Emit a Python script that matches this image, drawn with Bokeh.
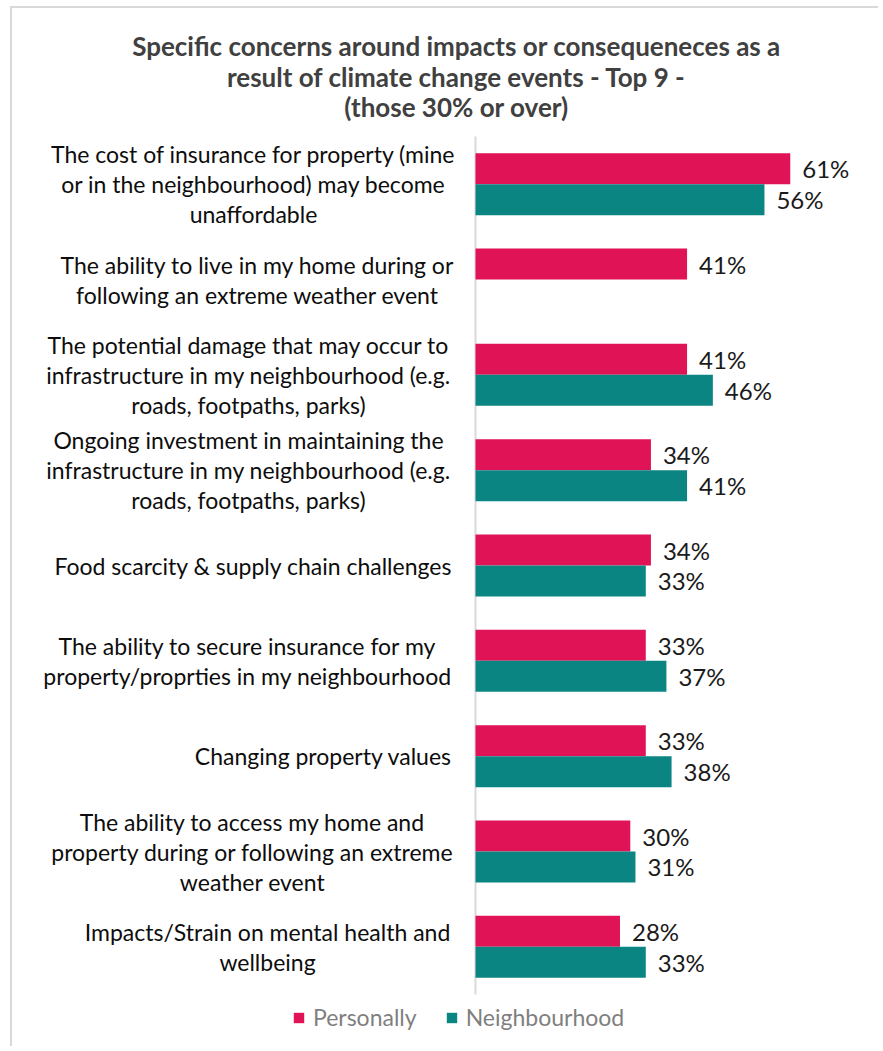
from bokeh.plotting import figure
from bokeh.models import (ColumnDataSource, Range1d, LabelSet, Label,
                          Legend, LegendItem)
from bokeh.transform import dodge
from bokeh.core.properties import value
from bokeh.embed import file_html
from bokeh.resources import INLINE

# ---------------- data ----------------
title_lines = [
    "Specific concerns around impacts or consequeneces as a",
    "result of climate change events - Top 9 -",
    "(those 30% or over)",
]
categories = [
    "The cost of insurance for property (mine\nor in the neighbourhood) may become\nunaffordable",
    "The ability to live in my home during or\nfollowing an extreme weather event",
    "The potential damage that may occur to\ninfrastructure in my neighbourhood (e.g.\nroads, footpaths, parks)",
    "Ongoing investment in maintaining the\ninfrastructure in my neighbourhood (e.g.\nroads, footpaths, parks)",
    "Food scarcity & supply chain challenges",
    "The ability to secure insurance for my\nproperty/proprties in my neighbourhood",
    "Changing property values",
    "The ability to access my home and\nproperty during or following an extreme\nweather event",
    "Impacts/Strain on mental health and\nwellbeing",
]
personally = [61, 41, 41, 34, 34, 33, 33, 30, 28]
neighbourhood = [56, None, 46, 41, 33, 37, 38, 31, 33]
series_names = ["Personally", "Neighbourhood"]

# ---------------- styles / layout ----------------
PINK = "#E01357"
TEAL = "#0B8582"
FONT = "Lato"
W, H = 868, 1040
AXIS_X = 463                 # canvas px of the value axis (0 %)
PLOT_TOP, PLOT_BOTTOM = 128, 986   # canvas px (from top) of the category band area
PX_PER_PCT = 5.16
BAR_H = 0.325
LINE_PX = 30                 # line spacing of the wrapped category labels
# horizontal centre of each wrapped label block, in px left of the axis
label_center_px = [-222, -218, -227, -227, -222, -228, -152, -223, -208]

n = len(categories)
px_per_cat = (PLOT_BOTTOM - PLOT_TOP) / n
ypos = [n - i - 0.5 for i in range(n)]          # first category at the top

def nan_if_none(v):
    return float("nan") if v is None else v

src_p = ColumnDataSource(dict(y=ypos, val=personally, txt=[f"{v}%" for v in personally]))
src_n = ColumnDataSource(dict(y=ypos, val=[nan_if_none(v) for v in neighbourhood]))
n_idx = [i for i, v in enumerate(neighbourhood) if v is not None]
lab_n = ColumnDataSource(dict(y=[ypos[i] for i in n_idx],
                              val=[neighbourhood[i] for i in n_idx],
                              txt=[f"{neighbourhood[i]}%" for i in n_idx]))

# one row per wrapped line so that every line is centred in its block
cx, cy, cyo, ctxt = [], [], [], []
for i, label in enumerate(categories):
    lines = label.split("\n")
    k = len(lines)
    for j, line in enumerate(lines):
        cx.append(label_center_px[i] / PX_PER_PCT)
        cy.append(ypos[i])
        cyo.append(((k - 1) / 2 - j) * LINE_PX)
        ctxt.append(line)
cat_src = ColumnDataSource(dict(x=cx, y=cy, yo=cyo, txt=ctxt))

x_range = Range1d(-AXIS_X / PX_PER_PCT, (W - AXIS_X) / PX_PER_PCT)
y_range = Range1d(-(H - PLOT_BOTTOM) / px_per_cat, n + PLOT_TOP / px_per_cat)

p = figure(width=W, height=H, output_backend="svg", toolbar_location=None,
           x_range=x_range, y_range=y_range,
           min_border=0, min_border_left=0, min_border_right=0,
           min_border_top=0, min_border_bottom=0,
           styles={"margin-left": "10px", "margin-top": "6px",
                   "border-left": "2px solid #d9d9d9",
                   "border-top": "2px solid #d9d9d9"})
p.outline_line_color = None
p.xgrid.visible = False
p.ygrid.visible = False
p.xaxis.visible = False
p.yaxis.visible = False

# value axis line at 0 %
p.segment(x0=[0], y0=[0], x1=[0], y1=[n], line_color="#d9d9d9", line_width=2)

r_p = p.hbar(y=dodge("y", BAR_H / 2), right="val", left=0,
             height=BAR_H, source=src_p, fill_color=PINK, line_color=None)
r_n = p.hbar(y=dodge("y", -BAR_H / 2), right="val", left=0,
             height=BAR_H, source=src_n, fill_color=TEAL, line_color=None)

common = dict(text_font=value(FONT), text_font_size="24px", text_color="#1a1a1a",
              text_baseline="middle", text_align="left", x_offset=12)
p.add_layout(LabelSet(x="val", y=dodge("y", BAR_H / 2), text="txt",
                      source=src_p, **common))
p.add_layout(LabelSet(x="val", y=dodge("y", -BAR_H / 2), text="txt",
                      source=lab_n, **common))

# category labels
p.add_layout(LabelSet(x="x", y="y", y_offset="yo", text="txt", source=cat_src,
                      text_font=value(FONT), text_font_size="23px", text_color="#0d0d0d",
                      text_align="center", text_baseline="middle"))

# title (screen px from the bottom-left of the canvas)
title_y = [1003, 972, 942]
for t, ty in zip(title_lines, title_y):
    p.add_layout(Label(x=444, y=ty, x_units="screen", y_units="screen", text=t,
                       text_font=FONT, text_font_style="bold",
                       text_font_size="26px", text_color="#404040",
                       text_align="center", text_baseline="middle"))

legend = Legend(items=[LegendItem(label=series_names[0], renderers=[r_p]),
                       LegendItem(label=series_names[1], renderers=[r_n])],
                orientation="horizontal", location=(280, 17),
                label_text_font=FONT, label_text_font_size="23px",
                label_text_color="#7f7f7f", glyph_width=13, glyph_height=13,
                label_standoff=8, spacing=28, padding=0, margin=0,
                border_line_color=None, background_fill_alpha=0)
p.add_layout(legend, "center")

open("out.html", "w").write(file_html(p, INLINE))
